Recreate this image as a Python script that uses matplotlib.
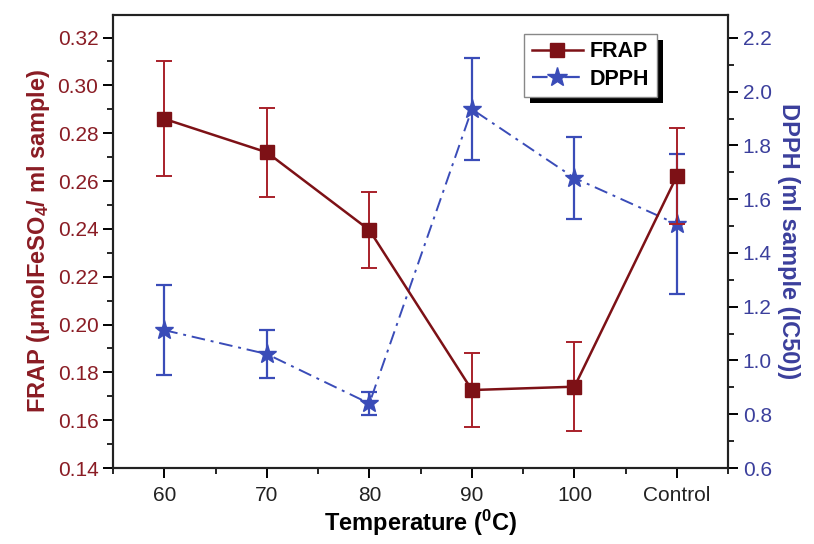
import matplotlib
matplotlib.use("Agg")
import matplotlib.pyplot as plt
from matplotlib.ticker import MultipleLocator, FormatStrFormatter
from matplotlib.lines import Line2D
from matplotlib.patches import Rectangle

plt.rcParams['font.family'] = ['Liberation Sans', 'DejaVu Sans']
plt.rcParams['mathtext.fontset'] = 'custom'
plt.rcParams['mathtext.rm'] = 'Liberation Sans'
plt.rcParams['mathtext.bf'] = 'Liberation Sans:bold'

# data
categories = ["60", "70", "80", "90", "100", "Control"]
frap = [0.286, 0.272, 0.2395, 0.1726, 0.174, 0.2622]
frap_err = [0.024, 0.0186, 0.016, 0.0153, 0.0186, 0.020]
dpph = [1.113, 1.024, 0.840, 1.935, 1.679, 1.507]
dpph_err = [0.167, 0.088, 0.043, 0.19, 0.152, 0.26]

red = "#7d1116"
red_err = "#a8202a"
blue = "#3a4cb8"
lab_red = "#8a1c24"
lab_blue = "#3b3f9c"
dash = (0, (7, 3, 1.5, 3))

x = list(range(len(categories)))

fig = plt.figure(figsize=(8.14, 5.44), dpi=100)
ax = fig.add_axes([0.1388, 0.1397, 0.7559, 0.8335])
ax2 = ax.twinx()

# DPPH on the right axis
ax2.errorbar(x, dpph, yerr=dpph_err, color=blue, ecolor=blue, marker="*",
             markersize=14, linestyle=dash, linewidth=1.4,
             elinewidth=1.6, capsize=6, capthick=1.6)

# FRAP on the left axis, drawn above
ax.errorbar(x, frap, yerr=frap_err, color=red, ecolor=red_err, marker="s",
            markersize=10, linestyle="-", linewidth=1.8,
            elinewidth=1.4, capsize=6, capthick=1.4)
ax.set_zorder(ax2.get_zorder() + 1)
ax.patch.set_visible(False)

ax.set_xlim(-0.5, 5.5)
ax.set_ylim(0.14, 0.3296)
ax2.set_ylim(0.6, 2.287)

ax.set_xticks(x)
ax.set_xticklabels(categories)
ax.xaxis.set_minor_locator(MultipleLocator(0.5))
ax.yaxis.set_major_locator(MultipleLocator(0.02))
ax.yaxis.set_minor_locator(MultipleLocator(0.01))
ax.yaxis.set_major_formatter(FormatStrFormatter("%.2f"))
ax2.yaxis.set_major_locator(MultipleLocator(0.2))
ax2.yaxis.set_minor_locator(MultipleLocator(0.1))
ax2.yaxis.set_major_formatter(FormatStrFormatter("%.1f"))

for a in (ax, ax2):
    for s in a.spines.values():
        s.set_linewidth(1.5)
        s.set_color("#222222")
ax.tick_params(axis="both", which="major", direction="out", length=7, width=1.4,
               labelsize=15, top=False)
ax.tick_params(axis="both", which="minor", direction="out", length=4, width=1.2, top=False)
ax.tick_params(axis="y", labelcolor=lab_red)
ax.tick_params(axis="x", labelcolor="#222222", pad=6)
ax2.tick_params(axis="y", which="major", direction="out", length=7, width=1.4,
                labelsize=15, labelcolor=lab_blue)
ax2.tick_params(axis="y", which="minor", direction="out", length=4, width=1.2)

ax.set_xlabel(r"Temperature ($\mathbf{^0}$C)", fontsize=17, fontweight="bold", labelpad=2)
ax.set_ylabel(r"FRAP ($\mathbf{\mu}$molFeSO$\mathbf{_4}$/ ml sample)", fontsize=17,
              fontweight="bold", color=lab_red, labelpad=4)
ax2.set_ylabel("DPPH (ml sample (IC50))", fontsize=17, fontweight="bold",
               color=lab_blue, rotation=270, labelpad=20)

# legend with plain line+marker handles
hf = Line2D([], [], color=red, marker="s", markersize=10, linewidth=1.8)
hd = Line2D([], [], color=blue, marker="*", markersize=15, linewidth=1.6, linestyle=dash)
leg = ax.legend([hf, hd], ["FRAP", "DPPH"], loc="upper left",
                bbox_to_anchor=(0.668, 0.958), fancybox=False, shadow=False,
                prop={"weight": "bold", "size": 15.5}, handlelength=2.4,
                borderpad=0.35, labelspacing=0.3, handletextpad=0.3,
                borderaxespad=0, framealpha=1, edgecolor="#888888")
leg.get_frame().set_linewidth(1.0)

# black drop shadow behind the legend box
fig.canvas.draw()
bb = leg.get_window_extent()
shadow = Rectangle((bb.x0 + 6, bb.y0 - 6), bb.width, bb.height, transform=None,
                   facecolor="black", edgecolor="none", zorder=leg.get_zorder() - 0.1)
ax.add_artist(shadow)

fig.savefig("out.png", dpi=100)
